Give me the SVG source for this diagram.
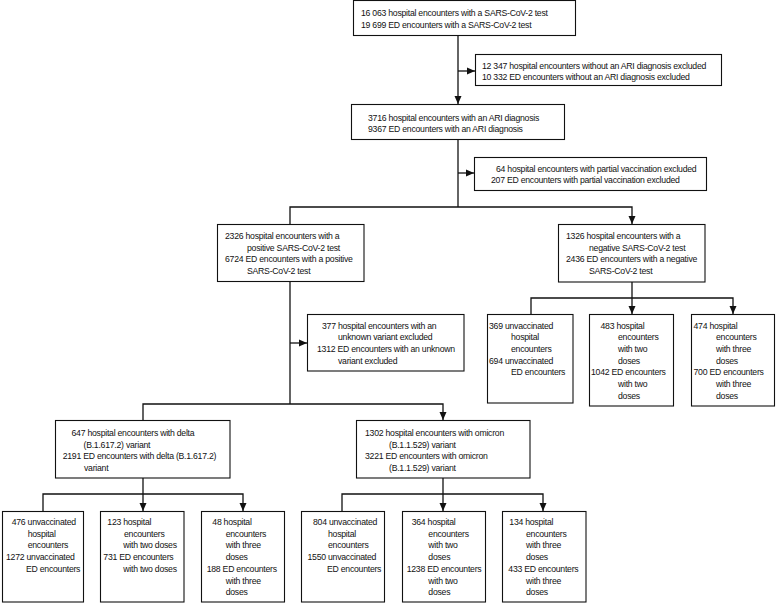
<svg xmlns="http://www.w3.org/2000/svg" width="776" height="603" viewBox="0 0 776 603">
<style>
.box{fill:#fff;stroke:#111;stroke-width:1.1}
.t{font-family:"Liberation Sans",Arial,sans-serif;font-size:8.7px;letter-spacing:-0.25px;fill:#111}
.c{stroke:#111;stroke-width:1.3;fill:none}
.a{marker-end:url(#ah)}
</style>
<defs>
<marker id="ah" markerUnits="userSpaceOnUse" markerWidth="8" markerHeight="8" viewBox="0 0 8 8" refX="8" refY="4" orient="auto">
<path d="M0,0.5 L8,4 L0,7.5 z" fill="#111"/>
</marker>
</defs>
<rect width="776" height="603" fill="#fff"/>
<g id="connectors">
<line class="c a" x1="458" y1="35.5" x2="458" y2="104"/>
<line class="c a" x1="458" y1="71" x2="475" y2="71"/>
<line class="c" x1="458" y1="139.5" x2="458" y2="207"/>
<line class="c a" x1="458" y1="173" x2="474" y2="173"/>
<polyline class="c a" points="290,224 290,207 632,207 632,224"/>
<line class="c" x1="290" y1="281.5" x2="290" y2="404"/>
<line class="c a" x1="290" y1="343" x2="307" y2="343"/>
<polyline class="c a" points="143,420 143,404 443,404 443,420"/>
<line class="c" x1="632" y1="282" x2="632" y2="298"/>
<polyline class="c a" points="531,314 531,298 733,298 733,314"/>
<line class="c a" x1="632" y1="298" x2="632" y2="314"/>
<line class="c" x1="143" y1="478" x2="143" y2="494"/>
<polyline class="c a" points="43,511 43,494 243,494 243,511"/>
<line class="c a" x1="143" y1="494" x2="143" y2="511"/>
<line class="c" x1="443" y1="478" x2="443" y2="494"/>
<polyline class="c a" points="342,511 342,494 543,494 543,511"/>
<line class="c a" x1="443" y1="494" x2="443" y2="511"/>
</g>
<g id="n-tested">
<rect class="box" x="353.5" y="0.5" width="222" height="35"/>
<text class="t" x="361" y="15.5">16 063 hospital encounters with a SARS-CoV-2 test</text>
<text class="t" x="361" y="27.5">19 699 ED encounters with a SARS-CoV-2 test</text>
</g>
<g id="n-excl-ari">
<rect class="box" x="475.5" y="54.5" width="246" height="31"/>
<text class="t" x="482" y="68.5">12 347 hospital encounters without an ARI diagnosis excluded</text>
<text class="t" x="482" y="80">10 332 ED encounters without an ARI diagnosis excluded</text>
</g>
<g id="n-ari">
<rect class="box" x="351.5" y="104.5" width="213" height="35"/>
<text class="t" x="368" y="120.5">3716 hospital encounters with an ARI diagnosis</text>
<text class="t" x="368" y="132">9367 ED encounters with an ARI diagnosis</text>
</g>
<g id="n-excl-partial">
<rect class="box" x="474.5" y="157.5" width="232" height="33"/>
<text class="t" x="496" y="171.5">64 hospital encounters with partial vaccination excluded</text>
<text class="t" x="491" y="183">207 ED encounters with partial vaccination excluded</text>
</g>
<g id="n-positive">
<rect class="box" x="217.5" y="224.5" width="146.5" height="57"/>
<text class="t" x="225" y="239">2326 hospital encounters with a</text>
<text class="t" x="247" y="250.7">positive SARS-CoV-2 test</text>
<text class="t" x="225" y="262.4">6724 ED encounters with a positive</text>
<text class="t" x="247" y="274.1">SARS-CoV-2 test</text>
</g>
<g id="n-negative">
<rect class="box" x="558.5" y="224.5" width="146.5" height="57.5"/>
<text class="t" x="566" y="239">1326 hospital encounters with a</text>
<text class="t" x="589" y="250.7">negative SARS-CoV-2 test</text>
<text class="t" x="566" y="262.4">2436 ED encounters with a negative</text>
<text class="t" x="589" y="274.1">SARS-CoV-2 test</text>
</g>
<g id="n-excl-unknown">
<rect class="box" x="307.5" y="314.5" width="156.5" height="56.5"/>
<text class="t" x="322" y="328.5">377 hospital encounters with an</text>
<text class="t" x="338" y="340.2">unknown variant excluded</text>
<text class="t" x="317" y="351.9">1312 ED encounters with an unknown</text>
<text class="t" x="338" y="363.6">variant excluded</text>
</g>
<g id="n-neg-unvacc">
<rect class="box" x="487.5" y="314.5" width="85.5" height="88.5"/>
<text class="t" x="489" y="328.5">369 unvaccinated</text>
<text class="t" x="511" y="340.2">hospital</text>
<text class="t" x="511" y="351.9">encounters</text>
<text class="t" x="489" y="363.6">694 unvaccinated</text>
<text class="t" x="511" y="375.3">ED encounters</text>
</g>
<g id="n-neg-two">
<rect class="box" x="589.5" y="314.5" width="84" height="91.5"/>
<text class="t" x="600.5" y="328.5">483 hospital</text>
<text class="t" x="618" y="340.2">encounters</text>
<text class="t" x="618" y="351.9">with two</text>
<text class="t" x="618" y="363.6">doses</text>
<text class="t" x="591" y="375.3">1042 ED encounters</text>
<text class="t" x="618" y="387">with two</text>
<text class="t" x="618" y="398.7">doses</text>
</g>
<g id="n-neg-three">
<rect class="box" x="691.5" y="314.5" width="83" height="91.5"/>
<text class="t" x="693.5" y="328.5">474 hospital</text>
<text class="t" x="716" y="340.2">encounters</text>
<text class="t" x="716" y="351.9">with three</text>
<text class="t" x="716" y="363.6">doses</text>
<text class="t" x="693.5" y="375.3">700 ED encounters</text>
<text class="t" x="716" y="387">with three</text>
<text class="t" x="716" y="398.7">doses</text>
</g>
<g id="n-delta">
<rect class="box" x="55.5" y="420.5" width="174.5" height="57.5"/>
<text class="t" x="71.5" y="436">647 hospital encounters with delta</text>
<text class="t" x="83.5" y="447.7">(B.1.617.2) variant</text>
<text class="t" x="62.7" y="459.4">2191 ED encounters with delta (B.1.617.2)</text>
<text class="t" x="84" y="471.1">variant</text>
</g>
<g id="n-omicron">
<rect class="box" x="356.5" y="420.5" width="173.5" height="57.5"/>
<text class="t" x="365" y="436">1302 hospital encounters with omicron</text>
<text class="t" x="389" y="447.7">(B.1.1.529) variant</text>
<text class="t" x="365" y="459.4">3221 ED encounters with omicron</text>
<text class="t" x="389" y="471.1">(B.1.1.529) variant</text>
</g>
<g id="n-delta-unvacc">
<rect class="box" x="2.5" y="511.5" width="81" height="90.5"/>
<text class="t" x="11.7" y="525">476 unvaccinated</text>
<text class="t" x="27.7" y="536.7">hospital</text>
<text class="t" x="27.7" y="548.4">encounters</text>
<text class="t" x="6" y="560.1">1272 unvaccinated</text>
<text class="t" x="26" y="571.8">ED encounters</text>
</g>
<g id="n-delta-two">
<rect class="box" x="100.5" y="511.5" width="83.5" height="90.5"/>
<text class="t" x="107.3" y="525">123 hospital</text>
<text class="t" x="124" y="536.7">encounters</text>
<text class="t" x="123.3" y="548.4">with two doses</text>
<text class="t" x="103.3" y="560.1">731 ED encounters</text>
<text class="t" x="123.3" y="571.8">with two doses</text>
</g>
<g id="n-delta-three">
<rect class="box" x="201.5" y="511.5" width="83" height="90.5"/>
<text class="t" x="212.3" y="525">48 hospital</text>
<text class="t" x="225.7" y="536.7">encounters</text>
<text class="t" x="225.7" y="548.4">with three</text>
<text class="t" x="225.7" y="560.1">doses</text>
<text class="t" x="206.7" y="571.8">188 ED encounters</text>
<text class="t" x="225.7" y="583.5">with three</text>
<text class="t" x="225.7" y="595.2">doses</text>
</g>
<g id="n-omicron-unvacc">
<rect class="box" x="301.5" y="511.5" width="83" height="90.5"/>
<text class="t" x="313" y="525">804 unvaccinated</text>
<text class="t" x="328" y="536.7">hospital</text>
<text class="t" x="328" y="548.4">encounters</text>
<text class="t" x="307.5" y="560.1">1550 unvaccinated</text>
<text class="t" x="327" y="571.8">ED encounters</text>
</g>
<g id="n-omicron-two">
<rect class="box" x="402.5" y="511.5" width="83" height="90.5"/>
<text class="t" x="411.7" y="525">364 hospital</text>
<text class="t" x="428.3" y="536.7">encounters</text>
<text class="t" x="428.3" y="548.4">with two</text>
<text class="t" x="428.3" y="560.1">doses</text>
<text class="t" x="406.7" y="571.8">1238 ED encounters</text>
<text class="t" x="428.3" y="583.5">with two</text>
<text class="t" x="428.3" y="595.2">doses</text>
</g>
<g id="n-omicron-three">
<rect class="box" x="502.5" y="511.5" width="83.5" height="90.5"/>
<text class="t" x="509.3" y="525">134 hospital</text>
<text class="t" x="526" y="536.7">encounters</text>
<text class="t" x="526" y="548.4">with three</text>
<text class="t" x="526" y="560.1">doses</text>
<text class="t" x="508.3" y="571.8">433 ED encounters</text>
<text class="t" x="526" y="583.5">with three</text>
<text class="t" x="526" y="595.2">doses</text>
</g>
</svg>
